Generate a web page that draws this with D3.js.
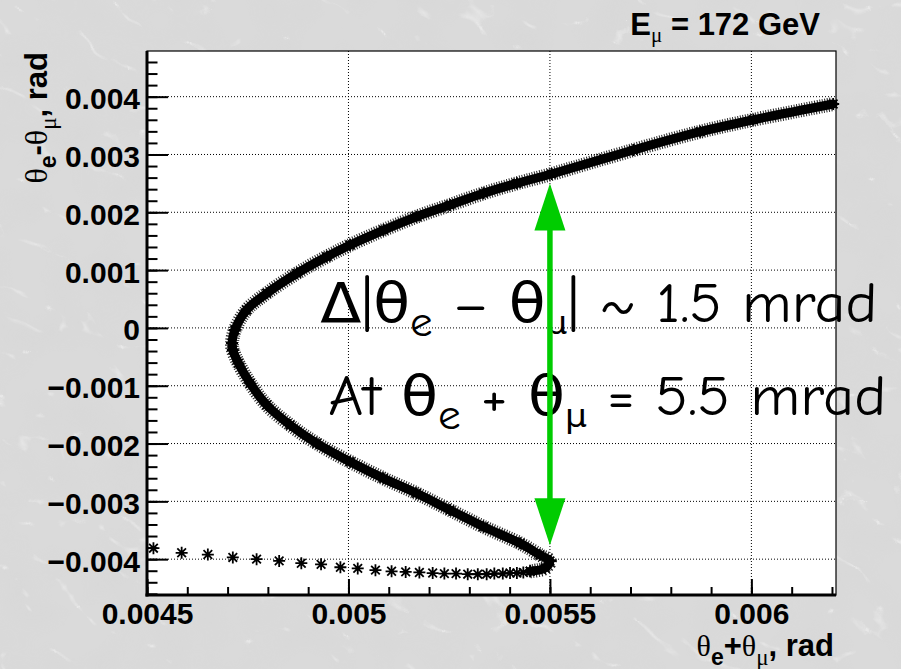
<!DOCTYPE html>
<html>
<head>
<meta charset="utf-8">
<title>theta_e - theta_mu vs theta_e + theta_mu</title>
<script src="https://cdnjs.cloudflare.com/ajax/libs/d3/7.8.5/d3.min.js"></script>
<style>
body { margin: 0; background: #d6d6d6; }
.grid line { stroke: black; stroke-dasharray: 1,2; stroke-width: 1; }
.axis path { display: none; }
.axis line { stroke: black; stroke-width: 2; }
.axis text, .lbl { font-family: "Liberation Sans", Arial, sans-serif; font-weight: bold; font-size: 30px; fill: black; }
.greek { font-family: "Liberation Serif", "DejaVu Serif", serif; font-weight: normal; }
.note { font-family: "Comic Sans MS", "Comic Neue", "DejaVu Sans", sans-serif; font-size: 56px; fill: black; }
</style>
</head>
<body>
<svg id="vis" width="901" height="669"></svg>
<script>
// sparse markers on the far side of the turning point
var tailX = [0.004516, 0.004586, 0.004651, 0.004713, 0.004772, 0.004828, 0.004883, 0.004932,
             0.004980, 0.005023, 0.005067, 0.005107, 0.005142, 0.005176, 0.005209, 0.005238,
             0.005267, 0.005296, 0.005321, 0.005343, 0.005362, 0.005383, 0.005401, 0.005418,
             0.005434, 0.005451];
var tailY = [-0.00381, -0.00389, -0.00392, -0.00397, -0.00400, -0.00403, -0.00407, -0.00409,
             -0.00414, -0.00416, -0.00419, -0.00421, -0.00422, -0.00423, -0.00424, -0.00425,
             -0.00425, -0.00426, -0.00426, -0.00426, -0.00425, -0.00425, -0.00424, -0.00424,
             -0.00423, -0.00421];

// dense band: lower branch from the right tip, round the left tip, up the upper branch
var bandX = [0.005451, 0.005488, 0.005500, 0.005475, 0.005426, 0.005335, 0.005252, 0.005169,
             0.005087, 0.005004, 0.004921, 0.004855, 0.004797, 0.004756, 0.004727, 0.004713,
             0.004711, 0.004718, 0.004747, 0.004797, 0.004872, 0.004946, 0.005004, 0.005087,
             0.005169, 0.005252, 0.005335, 0.005418, 0.005504, 0.005707, 0.005873, 0.006005,
             0.006203];
var bandY = [-0.004210, -0.004153, -0.004032, -0.003928, -0.003726, -0.003439, -0.003150, -0.002861,
             -0.002602, -0.002315, -0.001996, -0.001680, -0.001334, -0.000958, -0.000612, -0.000382,
             -0.000261, -0.000036, 0.000310, 0.000599, 0.000944, 0.001232, 0.001434, 0.001693,
             0.001924, 0.002126, 0.002328, 0.002501, 0.002662, 0.003077, 0.003394, 0.003600,
             0.003873];

var xMajor = [0.0045, 0.005, 0.0055, 0.006];
var yMajor = [-0.004, -0.003, -0.002, -0.001, 0, 0.001, 0.002, 0.003, 0.004];
var xMinor = d3.range(45, 63).map(i => i / 10000);
var yMinor = d3.range(-23, 24).map(i => i * 2 / 10000);

var arrowX = 0.0055, arrowTop = 0.0025, arrowBottom = -0.00376;

var svg = d3.select("#vis");
var W = 901, H = 669;
var L = 147, T = 51, R = 836, B = 595;

var x = d3.scaleLinear().domain([0.0045, 0.00621]).range([L, R]);
var y = d3.scaleLinear().domain([-0.00462, 0.00479]).range([B, T]);

// crumpled paper background
var defs = svg.append("defs");
var f = defs.append("filter").attr("id", "paper")
  .attr("x", 0).attr("y", 0).attr("width", 1).attr("height", 1);
f.append("feTurbulence").attr("type", "turbulence")
  .attr("baseFrequency", "0.012 0.02").attr("numOctaves", 3).attr("seed", 5);
f.append("feColorMatrix").attr("type", "matrix")
  .attr("values", "0 0 0 0 1  0 0 0 0 1  0 0 0 0 1  -8 0 0 0 0.8");
var f2 = defs.append("filter").attr("id", "shade")
  .attr("x", 0).attr("y", 0).attr("width", 1).attr("height", 1);
f2.append("feTurbulence").attr("type", "fractalNoise")
  .attr("baseFrequency", "0.02").attr("numOctaves", 2).attr("seed", 9);
f2.append("feColorMatrix").attr("type", "matrix")
  .attr("values", "0 0 0 0 0.6  0 0 0 0 0.6  0 0 0 0 0.6  0.6 0 0 0 -0.25");

svg.append("rect").attr("width", W).attr("height", H).attr("fill", "#dadada");
svg.append("rect").attr("width", W).attr("height", H)
  .attr("filter", "url(#shade)").attr("opacity", 0.5);
svg.append("rect").attr("x", -400).attr("y", -400).attr("width", 1700).attr("height", 1500)
  .attr("transform", "rotate(28,450,335)")
  .attr("filter", "url(#paper)").attr("opacity", 0.45);

// plot area
svg.append("rect").attr("x", L).attr("y", T).attr("width", R - L).attr("height", B - T)
  .attr("fill", "white");

// grid
var grid = svg.append("g").attr("class", "grid");
grid.selectAll(".gx").data(xMajor.filter(d => d > 0.0045)).enter().append("line")
  .attr("x1", d => x(d)).attr("x2", d => x(d)).attr("y1", T).attr("y2", B);
grid.selectAll(".gy").data(yMajor).enter().append("line")
  .attr("x1", L).attr("x2", R).attr("y1", d => y(d)).attr("y2", d => y(d));

// frame
svg.append("rect").attr("x", L).attr("y", T).attr("width", R - L).attr("height", B - T)
  .attr("fill", "none").attr("stroke", "black").attr("stroke-width", 1.2);

// axes
var fmt = d => d === 0 ? "0" : d3.format(".3f")(d);
var fmtX = d => d3.format(".4~f")(d);

svg.append("g").attr("class", "axis").attr("transform", `translate(${L},0)`)
  .call(d3.axisLeft(y).tickValues(yMinor).tickSize(-10.5).tickFormat(""));
svg.append("g").attr("class", "axis").attr("transform", `translate(${L},0)`)
  .call(d3.axisLeft(y).tickValues(yMajor).tickSize(-21).tickPadding(7).tickFormat(fmt))
  .selectAll("text").attr("dy", "0.4em");

svg.append("g").attr("class", "axis").attr("transform", `translate(0,${B})`)
  .call(d3.axisBottom(x).tickValues(xMinor).tickSize(-8).tickFormat(""));
svg.append("g").attr("class", "axis").attr("transform", `translate(0,${B})`)
  .call(d3.axisBottom(x).tickValues(xMajor).tickSize(-16).tickPadding(8).tickFormat(fmtX));

svg.append("line").attr("x1", L).attr("x2", L).attr("y1", T).attr("y2", B + 1.5)
  .attr("stroke", "black").attr("stroke-width", 3);
svg.append("line").attr("x1", L - 1.5).attr("x2", R).attr("y1", B).attr("y2", B)
  .attr("stroke", "black").attr("stroke-width", 3);

// curve
var star = function (s) {
  var a = s * 0.72;
  return `M${-s},0L${s},0M0,${-s}L0,${s}M${-a},${-a}L${a},${a}M${-a},${a}L${a},${-a}`;
};
var band = bandX.map((d, i) => [d, bandY[i]]);
var tail = tailX.map((d, i) => [d, tailY[i]]);
var line = d3.line().x(d => x(d[0])).y(d => y(d[1])).curve(d3.curveCatmullRom);

svg.append("path").datum(band).attr("d", line)
  .attr("fill", "none").attr("stroke", "#222").attr("stroke-width", 14)
  .attr("stroke-dasharray", "1,1.6");
svg.append("path").datum(band).attr("d", line)
  .attr("fill", "none").attr("stroke", "black").attr("stroke-width", 9)
  .attr("stroke-linecap", "round");
svg.append("path").datum(tail.slice(17).concat([band[1]])).attr("d", line)
  .attr("fill", "none").attr("stroke", "black").attr("stroke-width", 2);

svg.selectAll(".star").data(tail.concat(band)).enter().append("path")
  .attr("class", "star")
  .attr("transform", d => `translate(${x(d[0])},${y(d[1])})`)
  .attr("d", star(6))
  .attr("stroke", "black").attr("stroke-width", 1.8).attr("fill", "none");

// rich text helper: parts are {t, sub, cls, size}
function rich(sel, parts) {
  var shift = 0;
  parts.forEach(function (p) {
    var s = p.sub || 0;
    var ts = sel.append("tspan").text(p.t).attr("dy", s - shift);
    shift = s;
    if (p.cls) ts.attr("class", p.cls);
    if (p.size) ts.style("font-size", p.size + "px");
  });
}

// title
rich(svg.append("text").attr("class", "lbl").attr("x", 820).attr("y", 35)
  .attr("text-anchor", "end").style("font-size", "31px"),
  [{t: "E"}, {t: "\u03bc", sub: 7, cls: "greek", size: 21}, {t: " = 172 GeV"}]);

// axis titles
rich(svg.append("text").attr("class", "lbl").attr("x", 834).attr("y", 656)
  .attr("text-anchor", "end").style("font-size", "31px"),
  [{t: "\u03b8", cls: "greek", size: 30}, {t: "e", sub: 9, size: 23}, {t: "+"},
   {t: "\u03b8", cls: "greek", size: 30}, {t: "\u03bc", sub: 9, cls: "greek", size: 23}, {t: ", rad"}]);

rich(svg.append("text").attr("class", "lbl")
  .attr("transform", "translate(47,52) rotate(-90)")
  .attr("text-anchor", "end").style("font-size", "31px"),
  [{t: "\u03b8", cls: "greek", size: 32}, {t: "e", sub: 9, size: 23}, {t: "-"},
   {t: "\u03b8", cls: "greek", size: 32}, {t: "\u03bc", sub: 9, cls: "greek", size: 23}, {t: ", rad"}]);

// annotation
rich(svg.append("text").attr("class", "note")
  .attr("x", x(0.00493)).attr("y", y(0.0001))
  .attr("textLength", 557).attr("lengthAdjust", "spacingAndGlyphs"),
  [{t: "\u0394|\u03b8"}, {t: "e", sub: 14, size: 42}, {t: " \u2013 \u03b8"},
   {t: "\u03bc", sub: 12, size: 32}, {t: "| ~ 1.5 mrad"}]);
rich(svg.append("text").attr("class", "note")
  .attr("x", x(0.00495)).attr("y", y(-0.0015))
  .attr("textLength", 558).attr("lengthAdjust", "spacingAndGlyphs"),
  [{t: "At \u03b8"}, {t: "e", sub: 14, size: 42}, {t: " + \u03b8"},
   {t: "\u03bc", sub: 12, size: 32}, {t: " = 5.5 mrad"}]);

// green double arrow
var green = "#00cc00", head = 47, hw = 15.5;
var ax = x(arrowX), at = y(arrowTop), ab = y(arrowBottom);
svg.append("line").attr("x1", ax).attr("x2", ax).attr("y1", at + head - 2).attr("y2", ab - head + 2)
  .attr("stroke", green).attr("stroke-width", 5.5);
svg.append("path").attr("fill", green)
  .attr("d", `M${ax},${at}L${ax - hw},${at + head}L${ax + hw},${at + head}Z`);
svg.append("path").attr("fill", green)
  .attr("d", `M${ax},${ab}L${ax - hw},${ab - head}L${ax + hw},${ab - head}Z`);
</script>
</body>
</html>
